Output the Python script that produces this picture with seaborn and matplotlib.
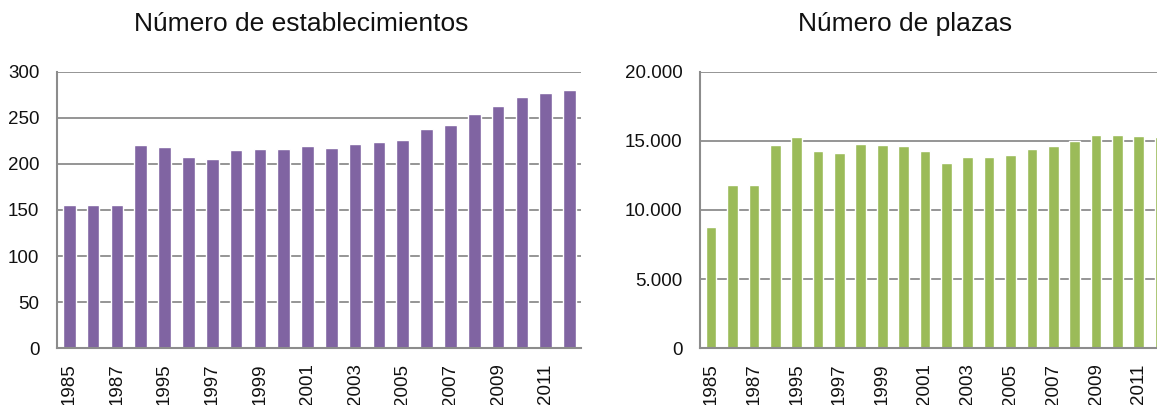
import matplotlib
matplotlib.use("Agg")
import matplotlib.pyplot as plt
import matplotlib.ticker as mticker
import seaborn as sns
import pandas as pd

years = ["1985", "1986", "1987", "1990", "1995", "1996", "1997", "1998", "1999", "2000",
         "2001", "2002", "2003", "2004", "2005", "2006", "2007", "2008", "2009", "2010",
         "2011", "2012"]
establecimientos = [155, 155, 155, 221, 218, 208, 205, 215, 216, 216,
                    219, 217, 222, 224, 226, 238, 242, 254, 263, 273,
                    277, 280]
plazas = [8800, 11800, 11800, 14700, 15300, 14300, 14100, 14800, 14700, 14600,
          14300, 13400, 13800, 13850, 13950, 14400, 14600, 15000, 15400, 15400,
          15350, 15250]

df = pd.DataFrame({"year": years, "est": establecimientos, "plz": plazas})

sns.set_theme(style="white")
plt.rcParams["font.family"] = ["Liberation Sans", "DejaVu Sans"]

TICK_SIZE = 13.5
GRID = "#8c8c8c"
TEXT = "#111111"

fig = plt.figure(figsize=(11.57, 4.05), dpi=100)
ax1 = fig.add_axes([0.0496, 0.140, 0.4529, 0.683])
ax2 = fig.add_axes([0.6054, 0.140, 0.4066, 0.683])


def style(ax, ymax, step, fmt):
    ax.set_ylim(0, ymax)
    ax.set_yticks(range(0, ymax + 1, step))
    ax.yaxis.set_major_formatter(mticker.FuncFormatter(fmt))
    ax.set_xlabel("")
    ax.set_ylabel("")
    ax.grid(axis="y", color=GRID, linewidth=1.3, linestyle="-")
    ax.grid(axis="x", visible=False)
    ax.set_axisbelow(True)
    for side in ("top", "right"):
        ax.spines[side].set_visible(False)
    for side in ("left", "bottom"):
        ax.spines[side].set_color(GRID)
        ax.spines[side].set_linewidth(1.5)
    ax.tick_params(axis="y", length=0, pad=13, labelsize=TICK_SIZE, labelcolor=TEXT)
    ax.tick_params(axis="x", length=0, pad=11)
    labels = [y if i % 2 == 0 else "" for i, y in enumerate(years)]
    ax.set_xticks(range(len(years)))
    ax.set_xticklabels(labels, rotation=90, va="top", ha="center",
                       fontsize=TICK_SIZE, color=TEXT)


sns.barplot(data=df, x="year", y="est", color="#8064A2", saturation=1, width=0.53, ax=ax1)
ax1.set_xlim(-0.5, len(years) - 0.5)
style(ax1, 300, 50, lambda v, p: f"{int(v)}")

sns.barplot(data=df, x="year", y="plz", color="#9BBB59", saturation=1, width=0.5, ax=ax2)
ax2.set_xlim(-0.5, len(years) - 0.5)
style(ax2, 20000, 5000, lambda v, p: f"{int(v):,}".replace(",", "."))

fig.text(301 / 1157, 1 - 31 / 405, "Número de establecimientos", ha="center", va="baseline",
         fontsize=19, color=TEXT)
fig.text(905.5 / 1157, 1 - 31 / 405, "Número de plazas", ha="center", va="baseline",
         fontsize=19, color=TEXT)

fig.savefig("out.png", dpi=100)
